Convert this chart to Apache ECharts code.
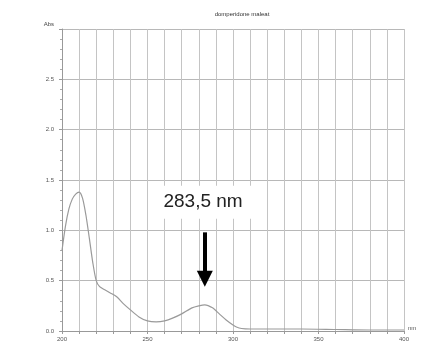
<!DOCTYPE html>
<html><head><meta charset="utf-8">
<script src="https://cdn.jsdelivr.net/npm/echarts@6/dist/echarts.min.js"></script>
<style>html,body{margin:0;padding:0;background:#fff}#c{width:422px;height:349px}</style>
</head><body><div id="c"></div>
<script>
const wavelengths = [200,202,204,206,208,210,212,214,216,218,220,222,225,228,232,236,240,245,250,255,260,265,270,276,280,283.5,288,292,296,300,302,305,310,320,340,360,380,400];
const absorbance  = [0.80,1.04,1.21,1.31,1.36,1.38,1.32,1.15,0.92,0.68,0.50,0.44,0.41,0.38,0.34,0.27,0.21,0.14,0.10,0.09,0.10,0.13,0.17,0.23,0.25,0.26,0.23,0.17,0.11,0.06,0.04,0.025,0.02,0.02,0.02,0.015,0.01,0.01];
const xTickLabels = ['200','250','300','350','400'];
const yTickLabels = ['0.0','0.5','1.0','1.5','2.0','2.5'];
const title = 'domperidone maleat';
const peakLabel = '283,5 nm';
const peakX = 283.5;

const chart = echarts.init(document.getElementById('c'));
chart.setOption({
  animation:false,
  backgroundColor:'#fff',
  title:{text:title,left:237,top:6,textAlign:'center',textStyle:{fontSize:6,fontWeight:'normal',color:'#333',fontFamily:'Liberation Sans'}},
  grid:{left:62,right:18,top:29,bottom:18},
  xAxis:{type:'value',min:200,max:400,interval:10,
    name:'nm',nameLocation:'end',nameGap:4,nameTextStyle:{fontSize:6,color:'#555',verticalAlign:'bottom'},
    axisLine:{lineStyle:{color:'#999',width:1}},
    axisTick:{show:true,length:3,lineStyle:{color:'#999'}},
    axisLabel:{fontSize:6,color:'#555',margin:5,fontFamily:'Liberation Sans',
      formatter:v=>{const s=String(v);return xTickLabels.includes(s)?s:'';}},
    splitLine:{show:true,lineStyle:{color:'#c4c4c4',width:1}}},
  yAxis:{type:'value',min:0,max:3,interval:0.5,
    name:'Abs',nameLocation:'end',nameGap:2,nameTextStyle:{fontSize:6,color:'#444',align:'right',padding:[0,8,0,0]},
    axisLine:{show:true,lineStyle:{color:'#999',width:1}},
    axisTick:{show:true,length:3,lineStyle:{color:'#999'}},
    minorTick:{show:true,splitNumber:5,length:2,lineStyle:{color:'#aaa'}},
    axisLabel:{fontSize:6,color:'#555',margin:8,fontFamily:'Liberation Sans',
      formatter:v=>{const s=v.toFixed(1);return yTickLabels.includes(s)?s:'';}},
    splitLine:{show:true,lineStyle:{color:'#b8b8b8',width:1}}},
  series:[{
    type:'line',smooth:0.25,symbol:'none',
    data:wavelengths.map((w,i)=>[w,absorbance[i]]),
    lineStyle:{color:'#9a9a9a',width:1.2},
    markLine:{silent:true,symbol:['none','triangle'],symbolSize:[16,16],
      lineStyle:{color:'#000',width:4,type:'solid'},label:{show:false},
      data:[[{coord:[peakX,0.98]},{coord:[peakX,0.52]}]]},
    markPoint:{silent:true,symbol:'rect',symbolSize:[110,33],
      itemStyle:{color:'#fff'},
      label:{show:true,formatter:peakLabel,fontSize:19,color:'#222',fontFamily:'Liberation Sans'},
      data:[{coord:[peakX-1,1.28]}]}
  }]
});
</script></body></html>
